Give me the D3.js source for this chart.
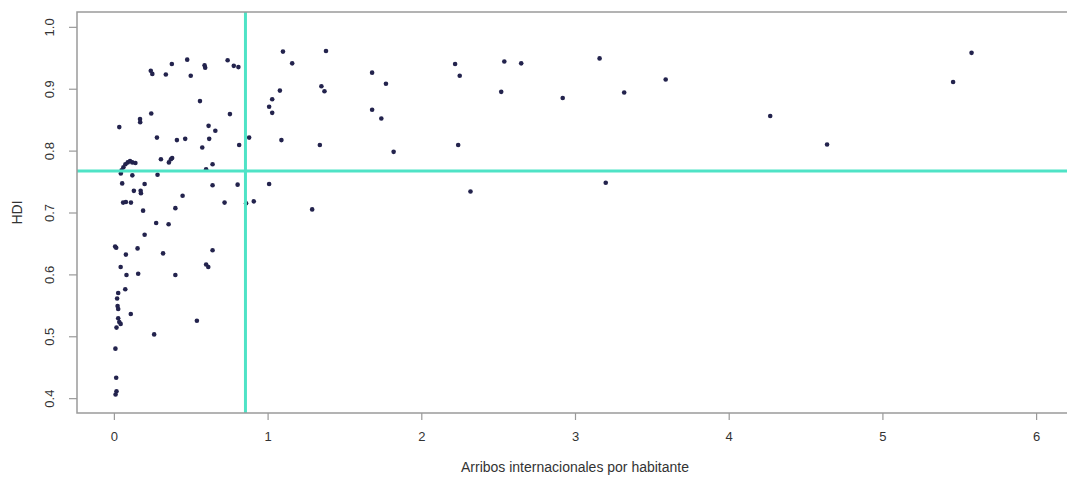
<!DOCTYPE html>
<html lang="es">
<head>
<meta charset="UTF-8">
<title>HDI vs arribos internacionales</title>
<script src="https://d3js.org/d3.v7.min.js"></script>
<style>
  body { margin: 0; background: #fff; }
  svg { display: block; font-family: "Liberation Sans", Arial, sans-serif; }
  .tick-label { font-size: 13px; fill: #333; }
  .axis-title { font-size: 14px; fill: #333; }
</style>
</head>
<body>
<svg id="chart" width="1067" height="480"></svg>
<script>
// arribos internacionales por habitante
const arrivals = [
  3.16, 2.92, 3.32, 3.59, 3.20, 4.27, 4.64, 5.46, 5.58,
  1.10, 1.38, 1.16, 1.08, 1.03, 1.01, 1.03, 1.35, 1.37, 0.88, 1.09, 1.34,
  1.68, 1.77, 1.68, 1.74, 1.82, 2.22, 2.25, 2.24, 2.32, 2.54, 2.65, 2.52,
  1.01, 0.86, 0.91, 1.29,
  0.477, 0.377, 0.24, 0.25, 0.338, 0.50, 0.59, 0.594, 0.74, 0.78, 0.81,
  0.56, 0.243, 0.17, 0.171, 0.035, 0.755, 0.616, 0.66, 0.28, 0.41, 0.464,
  0.62, 0.575, 0.815,
  0.045, 0.05, 0.062, 0.075, 0.09, 0.105, 0.12, 0.14,
  0.306, 0.358, 0.371, 0.379, 0.642, 0.60, 0.12, 0.284, 0.054, 0.20,
  0.642, 0.805, 0.13, 0.174, 0.176, 0.447, 0.06, 0.078, 0.111, 0.72,
  0.19, 0.40, 0.275, 0.356, 0.20, 0.008, 0.015, 0.154, 0.32, 0.642,
  0.078, 0.044, 0.60, 0.614,
  0.082, 0.158, 0.40, 0.074, 0.028, 0.021, 0.024, 0.028, 0.11, 0.028,
  0.035, 0.044, 0.017, 0.54, 0.262, 0.01, 0.015, 0.017, 0.011
];
// HDI
const hdi = [
  0.949, 0.885, 0.894, 0.915, 0.748, 0.856, 0.810, 0.911, 0.958,
  0.960, 0.961, 0.941, 0.897, 0.883, 0.871, 0.861, 0.904, 0.896, 0.821, 0.817, 0.809,
  0.926, 0.908, 0.866, 0.852, 0.798, 0.940, 0.921, 0.809, 0.734, 0.944, 0.941, 0.895,
  0.746, 0.715, 0.718, 0.705,
  0.947, 0.940, 0.929, 0.924, 0.923, 0.921, 0.938, 0.934, 0.946, 0.937, 0.935,
  0.880, 0.860, 0.851, 0.846, 0.838, 0.859, 0.840, 0.832, 0.821, 0.817, 0.819,
  0.819, 0.805, 0.809,
  0.763, 0.768, 0.773, 0.778, 0.781, 0.783, 0.781, 0.780,
  0.786, 0.781, 0.786, 0.788, 0.778, 0.770, 0.760, 0.761, 0.747, 0.746,
  0.744, 0.745, 0.735, 0.735, 0.731, 0.727, 0.716, 0.717, 0.716, 0.716,
  0.703, 0.707, 0.683, 0.681, 0.664, 0.645, 0.643, 0.642, 0.634, 0.639,
  0.632, 0.612, 0.616, 0.612,
  0.599, 0.601, 0.599, 0.576, 0.570, 0.561, 0.549, 0.544, 0.536, 0.529,
  0.523, 0.520, 0.514, 0.525, 0.503, 0.480, 0.433, 0.411, 0.406
];
const xTicks = [0, 1, 2, 3, 4, 5, 6];
const yTicks = [0.4, 0.5, 0.6, 0.7, 0.8, 0.9, 1.0];
const vLine = 0.856;   // referencia arribos
const hLine = 0.767;   // referencia HDI

const svg = d3.select("#chart");
const pL = 77, pR = 1073, pT = 12, pB = 413;

// xlim c(0,6), ylim c(0.4,1) con la extension del 4% de R
const x = d3.scaleLinear().domain([-0.24, 6.24]).range([pL, pR]);
const y = d3.scaleLinear().domain([0.376, 1.024]).range([pB, pT]);

svg.append("defs").append("clipPath").attr("id", "plotArea")
  .append("rect")
  .attr("x", pL).attr("y", pT)
  .attr("width", pR - pL).attr("height", pB - pT);

// puntos
svg.append("g")
  .selectAll("circle")
  .data(d3.zip(arrivals, hdi))
  .join("circle")
  .attr("cx", d => x(d[0]))
  .attr("cy", d => y(d[1]))
  .attr("r", 2.3)
  .attr("fill", "#23234d");

// lineas de referencia
const ref = svg.append("g").attr("clip-path", "url(#plotArea)")
  .attr("stroke", "#4fe3c6").attr("stroke-width", 3);
ref.append("line")
  .attr("x1", x(vLine)).attr("x2", x(vLine))
  .attr("y1", pT).attr("y2", pB);
ref.append("line")
  .attr("x1", pL).attr("x2", pR)
  .attr("y1", y(hLine)).attr("y2", y(hLine));

// caja
svg.append("rect")
  .attr("x", pL).attr("y", pT)
  .attr("width", pR - pL).attr("height", pB - pT)
  .attr("fill", "none").attr("stroke", "#9a9a9a").attr("stroke-width", 1.5);

// eje x
const xAxis = svg.append("g")
  .attr("transform", `translate(0,${pB})`)
  .call(d3.axisBottom(x).tickValues(xTicks).tickSize(7).tickFormat(d3.format("d")));
xAxis.select(".domain").remove();
xAxis.selectAll("line").attr("stroke", "#9a9a9a").attr("stroke-width", 1.2);
xAxis.selectAll("text").attr("class", "tick-label").attr("y", 24).attr("dy", "0.32em")
  .attr("fill", null).style("font-size", "13px");

// eje y
const yAxis = svg.append("g")
  .attr("transform", `translate(${pL},0)`)
  .call(d3.axisLeft(y).tickValues(yTicks).tickSize(8).tickFormat(d3.format(".1f")));
yAxis.select(".domain").remove();
yAxis.selectAll("line").attr("stroke", "#9a9a9a").attr("stroke-width", 1.2);
yAxis.selectAll("text")
  .attr("class", "tick-label")
  .attr("fill", null)
  .attr("x", null).attr("dy", null)
  .attr("text-anchor", "middle")
  .attr("transform", "translate(-23,0) rotate(-90)")
  .style("font-size", "13px");

// titulos de ejes
svg.append("text").attr("class", "axis-title")
  .attr("x", (pL + pR) / 2).attr("y", 472)
  .attr("text-anchor", "middle")
  .text("Arribos internacionales por habitante");
svg.append("text").attr("class", "axis-title")
  .attr("transform", `translate(22,${(pT + pB) / 2}) rotate(-90)`)
  .attr("text-anchor", "middle")
  .text("HDI");
</script>
</body>
</html>
